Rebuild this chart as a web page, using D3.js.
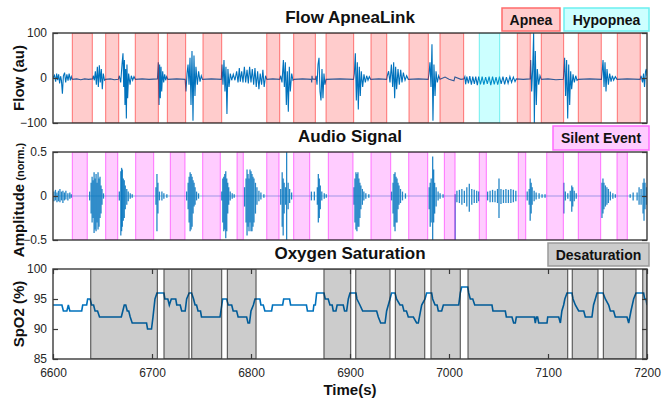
<!DOCTYPE html>
<html><head><meta charset="utf-8">
<script src="https://cdn.jsdelivr.net/npm/d3@7"></script>
<style>body{margin:0;background:#fff;} svg{display:block;font-family:"Liberation Sans",Arial,sans-serif;}</style>
</head><body><svg id="c" width="662" height="398"></svg>
<script>
// ---------- DATA ----------
const xTicks = [6600, 6700, 6800, 6900, 7000, 7100, 7200];
const flowTicks = [-100, 0, 100];
const audioTicks = [-0.5, 0, 0.5];
const spo2Ticks = [85, 90, 95, 100];

const apneaStart = [6619.5,6653.2,6683.1,6715.5,6751.5,6815.9,6843.1,6875.8,6921.2,6959.6,6990.9,7069,7093.2,7130.6,7170];
const apneaEnd   = [6639.7,6666.4,6706.4,6734,6770.4,6829,6865,6903.7,6937.1,6979.1,7014.8,7082.1,7115.8,7153.8,7193.2];
const hypopneaStart = [7030.6];
const hypopneaEnd   = [7051.2];
const silentStart = [6619.5,6653.2,6683.5,6718.5,6751.2,6785.9,6815.9,6843.1,6878.1,6921.2,6959.3,6995.3,7030.6,7070,7098.7,7130.6,7169.7];
const silentEnd   = [6634.6,6665.4,6701.7,6733.3,6769,6792.2,6828.3,6859.3,6903,6941.1,6978.5,7006.1,7037.7,7077.5,7115.5,7153.2,7180.1];
const desatStart = [6638.1,6712.1,6740.1,6776.1,6873.7,6905.8,6945.8,6981.8,7019.2,7124.5,7155.9,7195.7];
const desatEnd   = [6705.4,6737.4,6770.4,6805.1,6900.7,6940.4,6975.5,7011.4,7119.9,7150.5,7188.9,7200];

const flowT = [6600,6601.5,6602.7,6603.7,6604.7,6605.7,6606.7,6607.7,6608.5,6609.5,6610.5,6611.7,6612.8,6614,6615.2,6616.3,6617.5,6618.5,6619.5,6624,6628,6632,6636,6640,
6640.7,6641.8,6642.8,6643.8,6644.8,6645.8,6646.8,6647.8,6648.8,6649.8,6650.8,6652,6653,6658,6662,6666,
6667,6668.4,6669.7,6670.7,6671.4,6672.1,6672.7,6673.4,6674.1,6674.7,6675.4,6676.4,6677.8,6679.1,6680.5,6681.8,6683.2,6690,6697,6705.5,
6706.4,6707.1,6707.7,6708.4,6709.1,6709.8,6710.8,6711.8,6712.8,6713.8,6714.8,6716,6725,6733.5,
6734.3,6735.4,6736.4,6737.4,6738.4,6739.4,6740.4,6741.4,6742.4,6743.4,6744.4,6745.8,6747.1,6748.5,6749.8,6751,6760,6770,
6770.7,6771.7,6772.7,6773.7,6774.7,6775.7,6776.7,6777.8,6779.1,6780.5,6782.1,6783.8,6785.5,6786.9,6788.2,6789.2,6790.6,6791.9,6793.3,6794.6,6796,6797.3,6798.6,6800,6801.3,6802.7,6804,6805.3,6806.7,6808,6809.3,6810.7,6812,6813.3,6814.7,6816,6822,6829,
6830,6831.3,6832.7,6833.7,6834.7,6835.7,6836.7,6837.7,6838.7,6839.7,6841.1,6842.4,6843.5,6852,6861,6861.3,6861.6,6862,6865,
6865.7,6866.7,6867.7,6868.7,6869.7,6870.7,6871.7,6872.7,6873.7,6874.7,6875.8,6890,6903.5,
6904.4,6905.4,6906.4,6907.4,6908.4,6909.4,6910.4,6911.4,6912.8,6914.1,6915.5,6916.8,6918.2,6919.5,6920.9,6929,6937,
6937.7,6939,6940.4,6941.8,6943.1,6944.1,6945.1,6946.1,6947.1,6948.5,6949.8,6951.2,6952.5,6953.9,6955.6,6957.2,6958.9,6969,6979,
6979.8,6980.8,6981.8,6982.8,6983.8,6984.8,6985.9,6986.9,6988.2,6989.6,6990.9,6996,7000,7005,7006,7012,7015,
7016,7016.8,7018,7019.6,7021,7022.6,7024,7025.6,7027,7028.6,7030,7031.8,7033.5,7035.2,7037,7038.7,7040.5,7042.2,7044,7045.7,7047.5,7049.2,7051,7052.7,7054.5,7056.2,7058,7059.7,7061.5,7063.2,7065,7066.7,7068,7075,7082,
7082.5,7083.5,7084.5,7085.5,7086.2,7087.2,7088.2,7089.2,7090.6,7091.9,7093.3,7100,7108,7115.5,
7116.2,7116.8,7117.8,7118.8,7119.9,7120.9,7121.9,7122.9,7123.9,7125.3,7126.6,7128,7129.3,7130.6,7142,7154,
7154.5,7155.6,7156.6,7157.6,7158.6,7159.6,7161,7162.3,7163.7,7165,7166.3,7168,7169.7,7180,7193,
7194,7195.5,7196.5,7197.5,7198.5,7199.3,7200];
const flowV = [0,6,-8,10,-5,8,-12,4,-5,-35,5,12,-10,8,-6,10,-5,3,-3,-2,-4,-2,-3,-2,
5,-5,15,-15,25,-20,28,-10,20,-25,10,-5,-3,-2,-4,-3,
5,-10,30,55,-20,40,-60,20,-90,30,-45,10,-15,5,-5,3,-3,-2,-3,-2,
35,-60,30,-45,25,-30,15,-10,8,-5,3,-3,-2,-3,
-30,10,30,-15,45,-60,60,-95,50,-40,25,-15,15,-8,5,-3,-2,-3,
30,-15,40,-30,25,-80,20,-20,10,-5,8,-5,15,-10,22,-8,15,-10,25,-10,18,-12,25,-10,20,-15,22,-20,15,-25,10,-15,18,-20,5,-3,-2,-3,
5,-10,40,-20,35,-60,15,-75,25,-30,10,-5,-3,-2,-3,-10,5,-2,-3,
5,-15,30,45,-30,-50,20,-45,10,-15,-3,-2,-3,
10,55,-50,35,-70,25,-40,15,-20,8,-10,5,-5,3,-3,-2,-3,
5,15,-10,30,-20,35,-45,25,-25,20,-15,18,-10,12,-5,5,-3,-2,-3,
10,35,-20,75,-95,30,-40,15,-10,5,-3,2,-3,-6,2,-3,-2,
3,-14,3,-12,4,-15,3,-13,3,-16,3,-14,3,-15,2,-13,3,-16,3,-14,2,-15,3,-13,3,-14,2,-12,3,-10,2,-8,-2,-3,-2,
40,-30,20,100,-100,60,-60,20,-15,5,-3,-2,-4,-3,
20,45,-40,40,-90,30,-60,15,-25,8,-10,5,-5,-3,-2,-3,
10,40,-20,35,-30,20,-15,10,-8,5,-5,3,-3,-2,-3,
5,-10,10,-20,15,20,5];

const audioT = [6601,6602.5,6604,6605.5,6607,6608.5,6610,6611.5,6613,6615,6617,6618.5,
6637,6638.5,6639.5,6640.5,6641.5,6642.5,6643.5,6644.5,6645.5,6646.5,6647.5,6648.5,6649.5,6651,
6667,6668.5,6669.3,6670,6671,6672,6673,6674.5,6676,6678,6680,
6704,6705,6706,6707.5,6710,6712,6715,
6735,6736.5,6737.5,6738.5,6739.5,6740.5,6741.5,6742.5,6743.5,6745,6747,
6770.5,6771.5,6772.5,6773.5,6774.5,6775.5,6776.5,6777.5,6779,6781,6783,
6793.5,6795,6796,6797,6798,6799,6800,6801,6802,6803,6804.5,6806,6808,6810,6813,
6830,6831.5,6832.5,6833.5,6835,6836,6837.5,6839,6841,
6861,6864,6867,6868,6869,6870,6871.5,6874,6876,
6904,6905,6906,6907,6908,6909,6910,6911,6912.5,6914,6916,6919,
6942,6943.5,6944.5,6945.5,6946.5,6947.5,6948.5,6949.5,6951,6953,6956,
6980,6981,6982,6983.5,6984.5,6985.5,6987,6989,6991,6994,
7006.2,7008,7010.5,7013,7015.5,7018,7020.5,7023,7025.5,7028,7030,
7039,7041.5,7044,7046.5,7049,7050.5,7052.5,7055,7057.5,7060,7062.5,7065,7067.5,
7079,7081,7082,7083,7084,7086,7088,7091,7094,7097,
7116,7117.5,7120,7122.5,7124,7125,7126.5,7128.5,
7154.5,7155.5,7156.5,7158,7159.5,7161,7163,7165.5,7168,
7183,7186,7190,7192,7194,7196,7197,7198,7199.5];
const audioHi = [.05,.07,.04,.06,.08,.05,.06,.04,.06,.03,.04,.02,
.05,.15,.22,.18,.27,.2,.25,.15,.27,.2,.22,.12,.08,.03,
.05,.28,.32,.3,.2,.18,.12,.08,.05,.03,.02,
.1,.25,.15,.05,.05,.03,.02,
.05,.15,.22,.27,.25,.22,.18,.15,.1,.05,.03,
.05,.2,.22,.25,.28,.2,.15,.1,.05,.03,.02,
.1,.2,.3,.25,.2,.3,.28,.25,.22,.2,.15,.1,.06,.04,.02,
.08,.27,.2,.15,.1,.5,.15,.08,.04,
.05,.05,.1,.25,.2,.12,.05,.03,.02,
.1,.2,.27,.25,.27,.2,.15,.12,.08,.05,.03,.02,
.05,.15,.25,.27,.22,.2,.15,.12,.08,.05,.03,
.1,.15,.2,.45,.3,.15,.1,.05,.03,.02,
.02,.06,.07,.08,.06,.1,.14,.08,.07,.06,.05,
.05,.06,.07,.06,.08,.2,.08,.07,.08,.07,.08,.07,.06,
.05,.08,.2,.15,.1,.06,.04,.03,.02,.02,
.15,.05,.03,.06,.12,.1,.06,.03,
.15,.2,.15,.12,.1,.08,.05,.03,.02,
.02,.04,.04,.1,.08,.15,.2,.15,.1];
const audioLo = [-.06,-.05,-.07,-.06,-.07,-.05,-.08,-.05,-.04,-.05,-.03,-.02,
-.05,-.2,-.3,-.25,-.42,-.38,-.4,-.3,-.38,-.35,-.25,-.2,-.1,-.03,
-.05,-.45,-.4,-.35,-.28,-.25,-.15,-.1,-.06,-.03,-.02,
-.1,-.4,-.2,-.05,-.05,-.03,-.02,
-.05,-.15,-.3,-.4,-.38,-.35,-.2,-.12,-.1,-.05,-.03,
-.05,-.3,-.4,-.38,-.48,-.4,-.2,-.1,-.05,-.03,-.02,
-.12,-.3,-.45,-.35,-.4,-.3,-.4,-.4,-.35,-.3,-.2,-.1,-.06,-.04,-.02,
-.1,-.35,-.45,-.2,-.1,-.5,-.15,-.08,-.04,
-.05,-.05,-.1,-.3,-.25,-.15,-.05,-.03,-.02,
-.1,-.3,-.38,-.4,-.35,-.35,-.25,-.15,-.1,-.05,-.03,-.02,
-.05,-.2,-.35,-.4,-.3,-.3,-.15,-.1,-.08,-.05,-.03,
-.15,-.35,-.3,-.5,-.3,-.2,-.12,-.05,-.03,-.02,
-.5,-.07,-.08,-.1,-.08,-.12,-.18,-.1,-.08,-.08,-.06,
-.05,-.07,-.07,-.07,-.08,-.25,-.09,-.08,-.08,-.08,-.08,-.07,-.06,
-.05,-.1,-.28,-.2,-.1,-.06,-.04,-.03,-.02,-.02,
-.2,-.05,-.03,-.06,-.18,-.12,-.06,-.03,
-.25,-.2,-.15,-.12,-.1,-.08,-.05,-.03,-.02,
-.02,-.05,-.05,-.1,-.1,-.2,-.28,-.15,-.1];

const spo2T = [6600,6609,6610.5,6614,6615.5,6617,6629,6630,6634,6635,6637.5,6639,6641,6642.5,6645,6647,6669,6670.5,6672,6673.5,6675,6676.5,6678,6680,6694.5,6695.5,6699.5,6701,6703,6705,6712,6713,6716,6717.5,6719.5,6724,6725,6728.5,6730,6733.5,6735,6737.5,6740,6742,6743.5,6745,6746.5,6749,6750,6768.7,6771.4,6775.4,6777,6780.5,6782,6785.5,6787,6795.6,6797,6798.5,6800,6802.4,6804,6809,6810,6812.4,6814,6820.8,6821.8,6832,6833,6839,6840,6856,6857,6862.8,6863.5,6865,6866.3,6873.7,6875,6878,6879.7,6882,6883.1,6885.8,6887,6893.2,6894.5,6896.6,6898.3,6900,6906,6907,6910,6912.8,6926.9,6928.6,6931,6935.4,6937,6940.4,6942,6945.5,6947,6950.5,6953,6954.5,6957,6958.9,6964,6967.3,6969,6972.4,6975.8,6977.4,6982.5,6983.5,6985.9,6988,6989.2,6992.6,6994.3,7009.8,7011.4,7012.8,7018.9,7019.9,7021.5,7024,7026,7043.4,7044.4,7056.9,7057.9,7063.6,7065.3,7067,7068,7086.2,7087.2,7088.2,7089.5,7090.6,7099,7099.7,7110.8,7112.5,7114,7115.8,7117,7119.2,7124.2,7125.3,7127.6,7131,7136.1,7137.7,7144.4,7146,7147.8,7149.5,7155.6,7157.9,7161.3,7163,7166.3,7168,7179.8,7181.5,7183.8,7186.5,7188.9,7196.6,7197.6,7199,7200];
const spo2V = [94,94,93,93,94,93,93,94,94,95,95,94,94,93,93,92,92,93,94,94,93,93,92,91,91,90,90,92,95,96,96,95,95,94,95,95,94,94,93,93,95,96,96,95,94,94,93,93,92,92,95,95,94,94,93,93,92,92,91,91,93,94,95,95,94,94,93,93,94,94,95,95,94,94,93,93,94,94,96,96,95,95,94,94,93,93,94,94,93,93,95,96,96,95,94,93,93,92,91,91,93,95,96,96,95,94,94,93,93,92,92,91,91,94,95,96,96,95,94,94,93,93,94,94,96,97,97,96,95,95,94,94,93,93,92,92,91,91,92,92,91,92,92,91,91,92,92,91,93,94,95,96,96,95,94,93,93,92,92,94,95,96,96,95,94,93,93,92,92,91,93,95,96,96,95,95,94];

const titles = ["Flow ApneaLink", "Audio Signal", "Oxygen Saturation"];
const yLabels = ["Flow (au)", "Amplitude", "SpO2 (%)"];
const xLabel = "Time(s)";

// ---------- LAYOUT ----------
const svg = d3.select("#c");
svg.append("rect").attr("width",662).attr("height",398).attr("fill","#fff");
const X0 = 53, X1 = 647;
const x = d3.scaleLinear().domain([6600,7200]).range([X0,X1]);
const panels = [
  {top:33, bot:123, dom:[-100,100], ticks:flowTicks, fmt:d3.format("d")},
  {top:152, bot:240, dom:[-0.5,0.5], ticks:audioTicks, fmt:d=> d===0?"0":d3.format(".1f")(d)},
  {top:269, bot:359, dom:[85,100], ticks:spo2Ticks, fmt:d3.format("d")}
];
panels.forEach(p => p.y = d3.scaleLinear().domain(p.dom).range([p.bot,p.top]));
const BLUE = "#0072BD";
const AXC = "#3a3a3a";

panels.forEach((p,i)=>{
  svg.append("clipPath").attr("id","clip"+i).append("rect")
    .attr("x",X0).attr("y",p.top).attr("width",X1-X0).attr("height",p.bot-p.top);
});

function bands(g, p, starts, ends, fill, fillOp, stroke, strokeOp, sw){
  g.selectAll(null).data(starts.map((s,i)=>[s,ends[i]])).join("rect")
    .attr("x",d=>x(d[0])).attr("y",p.top)
    .attr("width",d=>x(d[1])-x(d[0])).attr("height",p.bot-p.top)
    .attr("fill",fill).attr("fill-opacity",fillOp)
    .attr("stroke",stroke).attr("stroke-opacity",strokeOp).attr("stroke-width",sw);
}

// Panel 1: flow
{
  const p = panels[0];
  const g = svg.append("g").attr("clip-path","url(#clip0)");
  const line = d3.line().x((d,i)=>x(flowT[i])).y((d,i)=>p.y(flowV[i]));
  g.append("path").attr("d",line(flowT)).attr("fill","none").attr("stroke",BLUE).attr("stroke-width",1.1);
  bands(g,p,apneaStart,apneaEnd,"#ff0000",0.2,"#ff0000",0.5,1);
  bands(g,p,hypopneaStart,hypopneaEnd,"#00ffff",0.2,"#00e0e0",0.5,1);
}
// Panel 2: audio
{
  const p = panels[1];
  const g = svg.append("g").attr("clip-path","url(#clip1)");
  g.append("line").attr("x1",X0).attr("x2",X1).attr("y1",p.y(0)).attr("y2",p.y(0))
    .attr("stroke",BLUE).attr("stroke-width",0.8).attr("stroke-opacity",0.6);
  g.selectAll(null).data(audioT).join("line")
    .attr("x1",d=>x(d)).attr("x2",d=>x(d))
    .attr("y1",(d,i)=>p.y(audioHi[i])).attr("y2",(d,i)=>p.y(audioLo[i]))
    .attr("stroke",BLUE).attr("stroke-width",1.3).attr("stroke-opacity",0.85);
  bands(g,p,silentStart,silentEnd,"#ff00ff",0.2,"#ff00ff",0.5,1);
}
// Panel 3: SpO2
{
  const p = panels[2];
  const g = svg.append("g").attr("clip-path","url(#clip2)");
  const line = d3.line().x((d,i)=>x(spo2T[i])).y((d,i)=>p.y(spo2V[i]));
  g.append("path").attr("d",line(spo2T)).attr("fill","none").attr("stroke",BLUE).attr("stroke-width",1.6);
  bands(g,p,desatStart,desatEnd,"#000000",0.2,"#222",0.75,1.1);
}

// Axes
panels.forEach((p,i)=>{
  const gl = svg.append("g").attr("transform",`translate(${X0},0)`)
    .call(d3.axisLeft(p.y).tickValues(p.ticks).tickFormat(p.fmt).tickSize(-5).tickPadding(6));
  const gr = svg.append("g").attr("transform",`translate(${X1},0)`)
    .call(d3.axisRight(p.y).tickValues(p.ticks).tickFormat("").tickSize(-5));
  [gl,gr].forEach(a=>{
    a.select(".domain").remove();
    a.selectAll("line").attr("stroke",AXC).attr("stroke-width",1.2);
    a.selectAll("text").attr("fill","#262626").style("font-size","12px").style("font-family","'Liberation Sans',Arial,sans-serif");
  });
  if(i===2){
    const gb = svg.append("g").attr("transform",`translate(0,${p.bot})`)
      .call(d3.axisBottom(x).tickValues(xTicks).tickFormat(d3.format("d")).tickSize(-5).tickPadding(9));
    const gt = svg.append("g").attr("transform",`translate(0,${p.top})`)
      .call(d3.axisTop(x).tickValues(xTicks).tickFormat("").tickSize(-5));
    [gb,gt].forEach(a=>{
      a.select(".domain").remove();
      a.selectAll("line").attr("stroke",AXC).attr("stroke-width",1.2);
      a.selectAll("text").attr("fill","#262626").style("font-size","12px").style("font-family","'Liberation Sans',Arial,sans-serif");
    });
  }
  svg.append("rect").attr("x",X0).attr("y",p.top).attr("width",X1-X0).attr("height",p.bot-p.top)
    .attr("fill","none").attr("stroke",AXC).attr("stroke-width",1.4);
  // title
  svg.append("text").attr("x",(X0+X1)/2).attr("y",p.top-10).attr("text-anchor","middle")
    .style("font-size","17px").style("font-weight","bold").attr("fill","#111").text(titles[i]);
});

// Y labels
const ylab = (cy, cb) => {
  const t = svg.append("text").attr("transform",`translate(24,${cy}) rotate(-90)`)
    .attr("text-anchor","middle").style("font-size","15px").style("font-weight","bold").attr("fill","#111");
  cb(t);
};
ylab(78, t=>t.text(yLabels[0]));
ylab(200, t=>{ t.append("tspan").text(yLabels[1]); t.append("tspan").style("font-size","11px").text(" (norm.)"); });
ylab(314, t=>t.text(yLabels[2]));

// X label
svg.append("text").attr("x",(X0+X1)/2).attr("y",395).attr("text-anchor","middle")
  .style("font-size","15px").style("font-weight","bold").attr("fill","#111").text(xLabel);

// Legends
const legends = [
  {label:"Apnea", x0:502, x1:560, y0:8, y1:31, fill:"#ffcccc", stroke:"#ff6b6b"},
  {label:"Hypopnea", x0:564, x1:649, y0:8, y1:31, fill:"#ccffff", stroke:"#6bf0f0"},
  {label:"Silent Event", x0:553, x1:649, y0:126, y1:150, fill:"#ffccff", stroke:"#ff6bff"},
  {label:"Desaturation", x0:548, x1:649, y0:243, y1:266, fill:"#cccccc", stroke:"#9a9a9a"}
];
legends.forEach(l=>{
  svg.append("rect").attr("x",l.x0).attr("y",l.y0).attr("width",l.x1-l.x0).attr("height",l.y1-l.y0)
    .attr("fill",l.fill).attr("stroke",l.stroke).attr("stroke-width",1.5);
  svg.append("text").attr("x",(l.x0+l.x1)/2).attr("y",(l.y0+l.y1)/2+5).attr("text-anchor","middle")
    .style("font-size","14px").style("font-weight","bold").attr("fill","#111").text(l.label);
});
</script></body></html>
